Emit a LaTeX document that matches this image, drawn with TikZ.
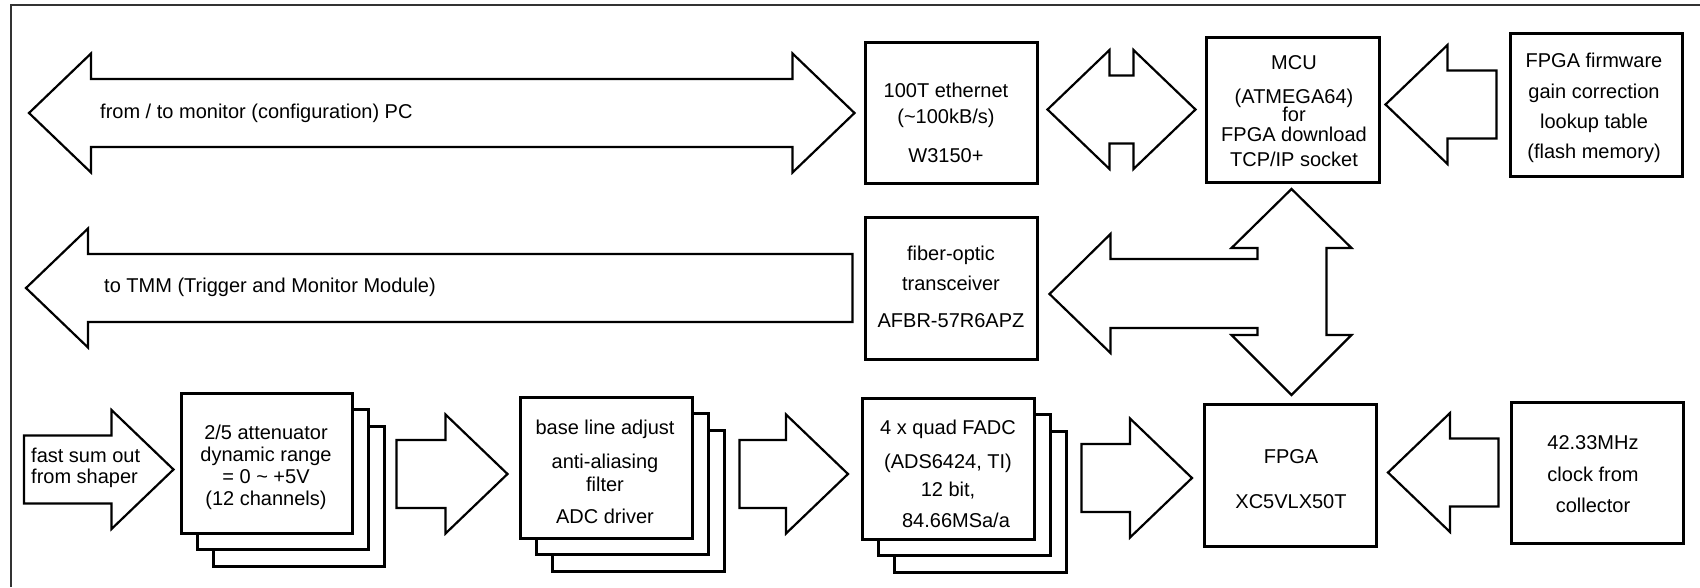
\documentclass[tikz,border=0pt]{standalone}
\usepackage{fontspec}
\setmainfont{Liberation Sans}
\usetikzlibrary{calc}

\begin{document}
\begin{tikzpicture}[x=1pt, y=-1pt,
  box/.style={draw, line width=3pt, fill=white, inner sep=0pt,
    minimum width=172pt, minimum height=141pt},
  txt/.style={font=\fontsize{20}{24}\selectfont, align=center, inner sep=0pt},
  fatline/.style={draw, line width=2.2pt, line join=miter, fill=white},
  % block arrow: shaft 68, head 119, head length 62
  fatto/.style={fatline, to path={
      let \p1=(\tikztostart), \p2=(\tikztotarget),
          \n1={ifthenelse(\x2>\x1,1,-1)} in
      (\x1,\y1+34pt) -- ({\x2-(\n1)*62pt},\y1+34pt) -- ({\x2-(\n1)*62pt},\y1+59.5pt)
      -- (\x2,\y1) -- ({\x2-(\n1)*62pt},\y1-59.5pt) -- ({\x2-(\n1)*62pt},\y1-34pt)
      -- (\x1,\y1-34pt) -- cycle}},
  fatboth/.style={fatline, to path={
      let \p1=(\tikztostart), \p2=(\tikztotarget),
          \n1={ifthenelse(\x2>\x1,1,-1)} in
      (\x1,\y1) -- ({\x1+(\n1)*62pt},\y1+59.5pt) -- ({\x1+(\n1)*62pt},\y1+34pt)
      -- ({\x2-(\n1)*62pt},\y1+34pt) -- ({\x2-(\n1)*62pt},\y1+59.5pt) -- (\x2,\y1)
      -- ({\x2-(\n1)*62pt},\y1-59.5pt) -- ({\x2-(\n1)*62pt},\y1-34pt)
      -- ({\x1+(\n1)*62pt},\y1-34pt) -- ({\x1+(\n1)*62pt},\y1-59.5pt) -- cycle}}]

  \useasboundingbox (0,0) rectangle (1700,587);

  % outer frame, cut at the right and at the bottom
  \draw[line width=1.5pt, black!80] (11,587) -- (11,5) -- (1700,5);

  % Top row
  \node[box] (eth) at (951,112.5) {};
  \node[box, minimum width=173pt, minimum height=145pt] (mcu) at (1292.5,109.5) {};
  \node[box, minimum height=143pt] (fw) at (1596,104.5) {};

  % Middle row
  \node[box, minimum height=142pt] (fiber) at (951,288) {};

  % Bottom row, 12 channels as stacked boards
  \foreach \k in {2,1} {
    \node[box, minimum width=171pt, minimum height=140pt] (att\k) at ({266.5+16*\k},{463+16.5*\k}) {};
    \node[box] (base\k) at ({606+16*\k},{467.5+16.5*\k}) {};
    \node[box] (fadc\k) at ({948.5+16*\k},{468.5+16.5*\k}) {};
  }
  \node[box, minimum width=171pt, minimum height=140pt] (att) at (266.5,463) {};
  \node[box] (base) at (606,467.5) {};
  \node[box] (fadc) at (948.5,468.5) {};
  \node[box, minimum height=142pt] (fpga) at (1290.5,475) {};
  \node[box] (clock) at (1597,472.5) {};

  % free ends
  \coordinate (pcEnd) at (29,113);
  \coordinate (tmmEnd) at (26,288);
  \coordinate (sumIn) at (24,469.5);

  % Block arrows
  \draw[fatboth] (pcEnd) to ([xshift=-9pt]eth.west);
  \draw[fatboth] ([xshift=-9pt]mcu.west) to ([xshift=9pt]eth.east);
  \draw[fatto] ([xshift=-12pt]fw.west) to ([xshift=5pt]mcu.east);
  \draw[fatto] ([xshift=-11pt]fiber.west) to (tmmEnd);
  \draw[fatto] (sumIn) to ([xshift=-6pt]att.west);
  \draw[fatto] ([shift={(11pt,22pt)}]att2.east) to ([xshift=-11pt]base.west);
  \draw[fatto] ([shift={(14pt,26.5pt)}]base2.east) to ([xshift=-13pt]fadc.west);
  \draw[fatto] ([shift={(13.5pt,23.5pt)}]fadc2.east) to ([xshift=-11pt]fpga.west);
  \draw[fatto] ([xshift=-11pt]clock.west) to ([xshift=10pt]fpga.east);

  % MCU <-> FPGA with branch to the fiber link
  \draw[fatline] (fiber.east) ++(11,6) -- ++(61,-60) -- ++(0,25) -- ++(147,0)
    -- ++(0,-11) -- ++(-26,0) -- ++(60,-59) -- ++(60,59) -- ++(-25,0)
    -- ++(0,87) -- ++(25,0) -- ++(-60,60) -- ++(-60,-60) -- ++(26,0)
    -- ++(0,-7) -- ++(-147,0) -- ++(0,25) -- cycle;

  % Texts
  \node[txt, anchor=west] (pcT) at (100,113) {from / to monitor (configuration) PC};
  \node[txt, anchor=west] (tmmT) at (104,287) {to TMM (Trigger and Monitor Module)};
  \node[txt, align=left, anchor=west] (sumT) at (31,467.5) {fast sum out\\[-3pt]from shaper};

  \node[txt] (ethT) at (946,122.5) {100T ethernet\\[2pt](\textasciitilde100kB/s)\\[15pt]W3150+};
  \node[txt] (mcuT) at (1294,111.5) {MCU\\[10pt](ATMEGA64)\\[-6pt]for\\[-4pt]FPGA download\\[1pt]TCP/IP socket};
  \node[txt] (fwT) at (1594,107.5) {FPGA firmware\\[7pt]gain correction\\[6pt]lookup table\\[6pt](flash memory)};
  \node[txt] (fiberT) at (951,286.5) {fiber-optic\\[6pt]transceiver\\[13pt]AFBR-57R6APZ};

  \node[txt] (attT) at (266,467) {2/5 attenuator\\[-2pt]dynamic range\\[-2pt]= 0 \textasciitilde{} +5V\\[-2pt](12 channels)};
  \node[txt] (baseT) at (605,471.5) {base line adjust\\[10pt]anti-aliasing\\[-1pt]filter\\[8pt]ADC driver};
  \node[txt] (fadcT) at (948,473.5) {4 x quad FADC\\[10pt](ADS6424, TI)\\[4pt]12 bit,\\[7pt]\hspace*{16pt}84.66MSa/a};
  \node[txt] (fpgaT) at (1291,479.5) {FPGA\\[21pt]XC5VLX50T};
  \node[txt] (clockT) at (1593,474.5) {42.33MHz\\[8pt]clock from\\[7pt]collector};
\end{tikzpicture}
\end{document}
